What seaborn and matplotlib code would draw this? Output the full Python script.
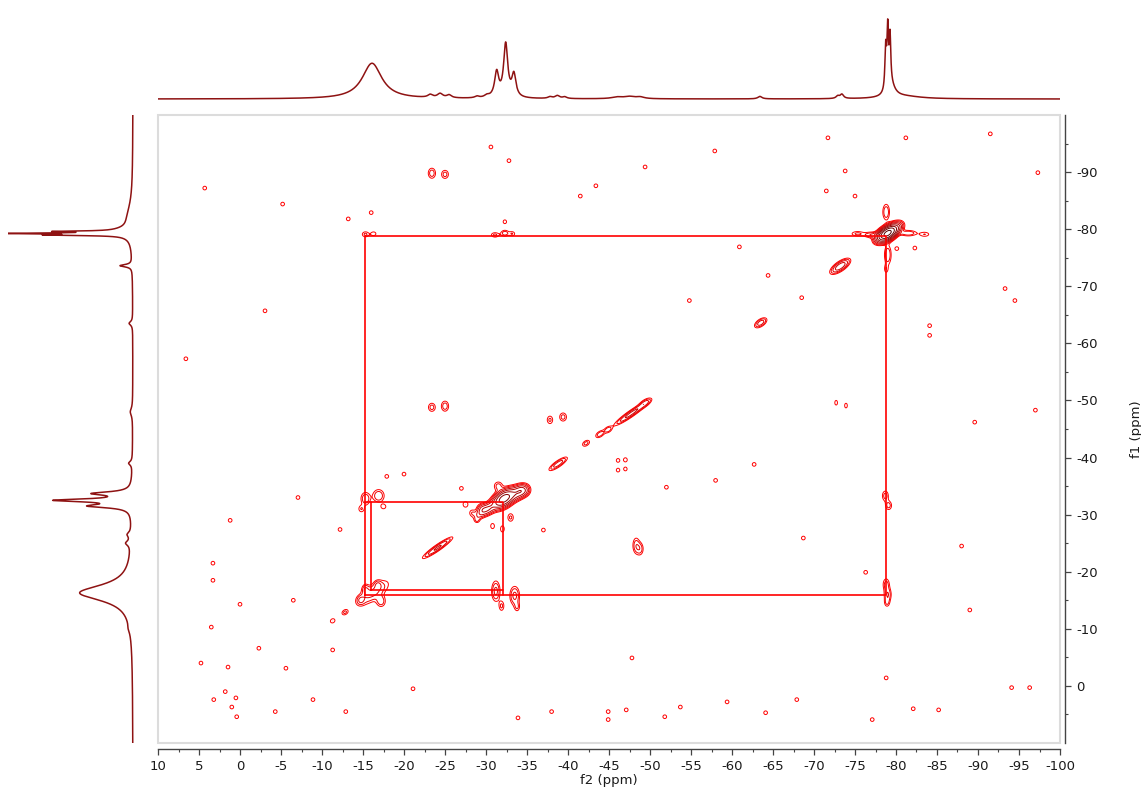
import numpy as np
import matplotlib
matplotlib.use("Agg")
import matplotlib.pyplot as plt
from matplotlib.colors import LinearSegmentedColormap
from matplotlib.patches import Rectangle
from matplotlib.ticker import MultipleLocator, FuncFormatter
import seaborn as sns

# ---------------- data (ppm values) ----------------
# 1D projection along f2 (top trace): centre, height, half width
top_center = [-16.1, -23.2, -24.4, -25.5, -28.9, -30.1, -31.3, -32.4, -33.4, -37.8, -38.7, -39.6,
              -46.0, -47.5, -48.8, -63.4, -72.9, -73.4, -78.74, -78.99, -79.27, -79.4, -81.0]
top_height = [0.43, 0.035, 0.05, 0.035, 0.02, 0.025, 0.30, 0.64, 0.27, 0.02, 0.035, 0.02,
              0.02, 0.025, 0.02, 0.03, 0.03, 0.05, 0.50, 0.70, 0.58, 0.13, 0.03]
top_hwhm = [1.45, 0.35, 0.4, 0.35, 0.3, 0.35, 0.3, 0.3, 0.3, 0.3, 0.35, 0.3,
            0.8, 0.8, 0.6, 0.3, 0.25, 0.25, 0.11, 0.11, 0.11, 0.6, 2.5]

# 1D projection along f1 (left trace)
left_center = [-79.6, -79.25, -78.97, -79.6, -82.0, -73.6, -63.5, -48.0, -39.0, -33.7, -32.5, -31.5,
               -26.5, -25.0, -16.3, -10.0]
left_height = [0.45, 0.85, 0.55, 0.12, 0.04, 0.10, 0.03, 0.02, 0.03, 0.30, 0.60, 0.32,
               0.03, 0.04, 0.44, 0.01]
left_hwhm = [0.1, 0.1, 0.1, 0.8, 3.0, 0.25, 0.4, 0.8, 0.4, 0.35, 0.3, 0.35,
             0.5, 0.5, 1.7, 0.8]

# 2D diagonal peaks (elongated along f1 = f2): f2, f1, amplitude, length, thickness
diag_f2 = [-79.0, -78.2, -80.0, -73.2, -63.5, -42.2, -43.9, -44.9, -47.7, -49.4, -38.8,
           -32.2, -30.2, -34.0, -29.2, -24.1, -16.2, -11.3, -12.8]
diag_f1 = [-79.3, -78.7, -80.2, -73.5, -63.6, -42.5, -44.1, -44.9, -47.7, -49.6, -38.9,
           -32.8, -31.0, -33.9, -30.0, -24.2, -16.3, -11.4, -12.9]
diag_amp = [50, 6, 6, 6, 3.5, 2.0, 2.3, 2.1, 5, 2.5, 3.5,
            22, 6, 7, 2.5, 4.5, 3, 1.6, 1.8]
diag_len = [0.7, 0.6, 0.6, 0.8, 0.55, 0.4, 0.45, 0.35, 1.4, 0.55, 0.85,
            0.9, 0.6, 0.7, 0.5, 1.3, 1.5, 0.3, 0.35]
diag_thk = [0.4, 0.4, 0.4, 0.32, 0.28, 0.25, 0.25, 0.25, 0.22, 0.25, 0.24,
            0.5, 0.4, 0.45, 0.35, 0.22, 0.6, 0.25, 0.25]

# 2D cross peaks / ridges: f2, f1, amplitude, width f2, width f1
cross_f2 = [-75.3, -77.0, -81.5, -83.5, -78.8, -79.0, -78.8,
            -23.4, -25.0, -23.4, -25.0, -48.3, -48.8, -37.8, -39.4,
            -46.1, -47.0, -46.1, -47.0, -72.7, -73.9,
            -31.1, -32.3, -33.2, -32.3, -15.3, -16.3,
            -78.7, -79.1, -78.8, -79.0, -78.9,
            -31.2, -31.9, -33.5, -33.8,
            -15.3, -16.9, -14.8, -17.5,
            -15.3, -17.2, -16.8, -14.7,
            -29.5, -34.5, -31.5, -33.0, -32.0, -30.8, -27.5, -28.3]
cross_f1 = [-79.2, -79.0, -79.3, -79.1, -83.0, -75.5, -73.0,
            -89.8, -89.6, -48.8, -49.0, -24.6, -24.0, -46.6, -47.1,
            -39.5, -39.6, -37.8, -38.0, -49.6, -49.1,
            -79.0, -79.3, -79.2, -81.3, -79.1, -79.2,
            -33.3, -31.6, -17.8, -16.0, -14.6,
            -16.6, -14.0, -15.8, -13.8,
            -32.8, -33.3, -31.0, -31.4,
            -17.0, -14.8, -17.8, -15.0,
            -31.0, -34.2, -35.0, -29.5, -27.5, -28.0, -31.8, -30.3]
cross_amp = [1.8, 2.5, 2.5, 1.6, 2.5, 2.5, 1.4,
             2.2, 2.0, 2.0, 2.2, 2.2, 2.0, 1.8, 2.0,
             1.4, 1.5, 1.4, 1.4, 1.4, 1.4,
             1.8, 2.2, 1.6, 1.4, 1.8, 1.5,
             2.0, 2.0, 2.0, 2.5, 1.6,
             3.0, 1.8, 3.0, 1.5,
             2.5, 2.5, 1.6, 1.5,
             2.0, 2.2, 1.6, 1.8,
             3.0, 4.0, 2.0, 1.8, 1.5, 1.5, 1.6, 1.5]
cross_w2 = [0.6, 0.6, 0.7, 0.5, 0.3, 0.3, 0.2,
            0.35, 0.35, 0.35, 0.35, 0.3, 0.3, 0.3, 0.35,
            0.25, 0.25, 0.25, 0.25, 0.2, 0.2,
            0.4, 0.35, 0.3, 0.25, 0.35, 0.3,
            0.3, 0.3, 0.3, 0.3, 0.25,
            0.35, 0.25, 0.4, 0.25,
            0.4, 0.5, 0.3, 0.3,
            0.3, 0.4, 0.3, 0.3,
            0.4, 0.5, 0.4, 0.3, 0.25, 0.25, 0.3, 0.3]
cross_w1 = [0.35, 0.35, 0.35, 0.35, 1.0, 1.2, 0.6,
            0.7, 0.6, 0.6, 0.7, 1.0, 0.8, 0.6, 0.6,
            0.4, 0.4, 0.4, 0.4, 0.5, 0.5,
            0.35, 0.4, 0.35, 0.4, 0.4, 0.35,
            0.7, 0.6, 0.8, 0.8, 0.6,
            1.2, 0.7, 1.1, 0.6,
            0.8, 0.8, 0.5, 0.4,
            0.6, 0.7, 0.5, 0.5,
            0.6, 0.6, 0.6, 0.6, 0.6, 0.5, 0.5, 0.5]

# isolated small noise spots: f2, f1
dot_f2 = [4.3, -5.2, -13.2, -16.0, -30.6, -32.8, -41.5, -43.4, -49.4, -57.9, -71.7, -71.5, -73.8,
          -75.0, -81.2, -91.5, -97.3, -80.1, -82.3, -60.9, -64.4, -68.5, -54.8, -93.3, -94.5,
          -97.0, -84.1, -84.1, -89.6, 6.6, -3.05, -7.07, 1.2, 3.3, 3.3, -12.2, -17.9, -20.0,
          -27.0, -37.0, -28.9, -52.0, -58.0, -62.7, -68.7, -76.3, -88.0, -89.0, -85.2, -94.1,
          -96.3, -78.8, -77.1, -47.8, -44.9, -44.9, -47.1, -51.8, -53.7, -33.9, -38.0, -21.1,
          -12.9, -8.9, -64.1, -67.9, -59.4, -82.1, 4.76, 1.46, -2.3, 1.8, 3.2, 0.5, 1.0, 0.4,
          -4.3, 3.5, 0.0, -5.6, -11.3, -6.5]
dot_f1 = [-87.2, -84.4, -81.8, -82.9, -94.4, -92.0, -85.8, -87.6, -90.9, -93.7, -96.0, -86.7, -90.2,
          -85.8, -96.0, -96.7, -89.9, -76.6, -76.7, -76.9, -71.9, -68.0, -67.5, -69.6, -67.5,
          -48.3, -63.1, -61.4, -46.2, -57.3, -65.7, -33.0, -29.0, -21.5, -18.5, -27.4, -36.7, -37.1,
          -34.6, -27.3, -29.0, -34.8, -36.0, -38.8, -25.9, -19.9, -24.5, -13.3, 4.2, 0.3,
          0.3, -1.4, 5.9, -4.9, 5.9, 4.5, 4.2, 5.4, 3.7, 5.6, 4.5, 0.5,
          4.5, 2.4, 4.7, 2.4, 2.8, 4.0, -4.0, -3.3, -6.6, 1.0, 2.4, 2.1, 3.7, 5.4,
          4.5, -10.3, -14.3, -3.1, -6.3, -15.0]

# correlation guide lines (f2, f1 polygons)
outer_f2 = [-15.2, -15.2, -78.8, -78.8, -15.2]
outer_f1 = [-15.9, -78.85, -78.85, -15.9, -15.9]
inner_f2 = [-16.0, -16.0, -32.1, -32.1, -16.0]
inner_f1 = [-16.8, -32.3, -32.3, -16.8, -16.8]
inner_link_f2 = [-15.2, -16.0]
inner_link_f1 = [-32.3, -32.3]
inner_drop_f2 = [-32.1, -32.1]
inner_drop_f1 = [-16.8, -15.9]

# ---------------- style ----------------
sns.set_theme(style="white")
plt.rcParams['font.family'] = ['DejaVu Sans']
plt.rcParams['axes.unicode_minus'] = False

W, H = 1141, 789
fig = plt.figure(figsize=(W / 100, H / 100), dpi=100)


def ax_px(l, t, r, b):
    return fig.add_axes([l / W, 1 - b / H, (r - l) / W, (b - t) / H])


ax = ax_px(158, 115, 1060, 743)
axt = ax_px(158, 10, 1060, 105)
axl = ax_px(8, 115, 138, 743)

LINE = "#8e1212"

# ---------------- 1D projections ----------------
def lorentz_sum(x, cs, hs, ws):
    y = np.zeros_like(x)
    for c, h, w in zip(cs, hs, ws):
        y += h * w ** 2 / ((x - c) ** 2 + w ** 2)
    return y


xs = np.linspace(10, -100, 6000)
top_y = lorentz_sum(xs, top_center, top_height, top_hwhm)
sns.lineplot(x=xs, y=top_y, ax=axt, color=LINE, lw=1.1, estimator=None, sort=False)
axt.set_xlim(10, -100)
axt.set_ylim(-0.072, 1.072)
axt.axis("off")

ys = np.linspace(10, -100, 6000)
left_x = lorentz_sum(ys, left_center, left_height, left_hwhm)
sns.lineplot(x=left_x, y=ys, ax=axl, color=LINE, lw=1.1, estimator=None, sort=False)
axl.set_ylim(10, -100)
axl.set_xlim(1.033, -0.0414)
axl.axis("off")

# ---------------- 2D contour map ----------------
f2 = np.linspace(10, -100, 1101)
f1 = np.linspace(10, -100, 1101)
Z = np.zeros((f1.size, f2.size))
K = (628 / 110) / (902 / 110)  # f1 ppm -> f2-equivalent display units
NRM = np.sqrt(1 + K * K)


def add_peak(c2, c1, amp, s2, s1, rot=False):
    if rot:
        r = 5 * max(s2, s1)
        r2, r1 = r, r / K
    else:
        r2, r1 = 5 * s2, 5 * s1
    i2 = np.where((f2 <= c2 + r2) & (f2 >= c2 - r2))[0]
    i1 = np.where((f1 <= c1 + r1) & (f1 >= c1 - r1))[0]
    if i2.size == 0 or i1.size == 0:
        return
    d2 = f2[i2][None, :] - c2
    d1 = f1[i1][:, None] - c1
    if rot:
        a, b = d2, d1 * K
        u = (a + K * b) / NRM
        v = (K * a - b) / NRM
        g = amp * np.exp(-0.5 * ((u / s2) ** 2 + (v / s1) ** 2))
    else:
        g = amp * np.exp(-0.5 * ((d2 / s2) ** 2 + (d1 / s1) ** 2))
    Z[i1[0]:i1[-1] + 1, i2[0]:i2[-1] + 1] += g


for p in zip(diag_f2, diag_f1, diag_amp, diag_len, diag_thk):
    add_peak(*p, rot=True)
for p in zip(cross_f2, cross_f1, cross_amp, cross_w2, cross_w1):
    add_peak(*p)
for a, b in zip(dot_f2, dot_f1):
    add_peak(a, b, 1.5, 0.25, 0.36)

levels = 1.0 * 1.6 ** np.arange(10)
cmap = LinearSegmentedColormap.from_list("nmr", [(0, "#ff0000"), (0.3, "#d40000"), (1, "#3a0000")])
cols = [cmap(i / (len(levels) - 1)) for i in range(len(levels))]
ax.contour(f2, f1, Z, levels=levels, colors=cols, linewidths=0.7)

# guide lines
for gx, gy in [(outer_f2, outer_f1), (inner_f2, inner_f1), (inner_link_f2, inner_link_f1),
               (inner_drop_f2, inner_drop_f1)]:
    sns.lineplot(x=gx, y=gy, ax=ax, color="#ff0000", lw=1.2, estimator=None, sort=False)

ax.set_xlim(10, -100)
ax.set_ylim(10, -100)

# frame
for s in ["top", "left"]:
    ax.spines[s].set_visible(False)
ax.add_patch(Rectangle((0, 0), 1, 1, transform=ax.transAxes, fill=False,
                       edgecolor="#dcdcdc", lw=1.5, clip_on=False, zorder=0))
ax.spines["bottom"].set_position(("outward", 4))
ax.spines["right"].set_position(("outward", 3.6))
for s in ["bottom", "right"]:
    ax.spines[s].set_color("#444444")
    ax.spines[s].set_linewidth(1.0)

ax.xaxis.set_major_locator(MultipleLocator(5))
ax.xaxis.set_minor_locator(MultipleLocator(2.5))
fmt = FuncFormatter(lambda v, p: f"{v:.0f}")
ax.xaxis.set_major_formatter(fmt)
ax.yaxis.set_major_formatter(fmt)
ax.yaxis.tick_right()
ax.yaxis.set_label_position("right")
ax.tick_params(axis="both", which="major", direction="out", length=4, width=0.9,
               color="#444444", labelsize=9.5, labelcolor="#1a1a1a", pad=4)
ax.tick_params(axis="both", which="minor", direction="out", length=2, width=0.8, color="#444444")
ax.tick_params(axis="x", which="both", bottom=True, top=False)
ax.tick_params(axis="y", which="both", right=True, left=False, labelright=True, labelleft=False)
ax.set_yticks([t for t in range(-90, 1, 10)])
ax.set_yticks([t for t in range(-95, 10, 10)], minor=True)

ax.set_xlabel("f2 (ppm)", fontsize=9.5, color="#1a1a1a")
ax.set_ylabel("f1 (ppm)", fontsize=9.5, color="#1a1a1a", rotation=90)
ax.xaxis.set_label_coords(0.5, -0.049)
ax.yaxis.set_label_coords(1.0776, 0.5)
ax.grid(False)

fig.savefig("out.png", dpi=100)
